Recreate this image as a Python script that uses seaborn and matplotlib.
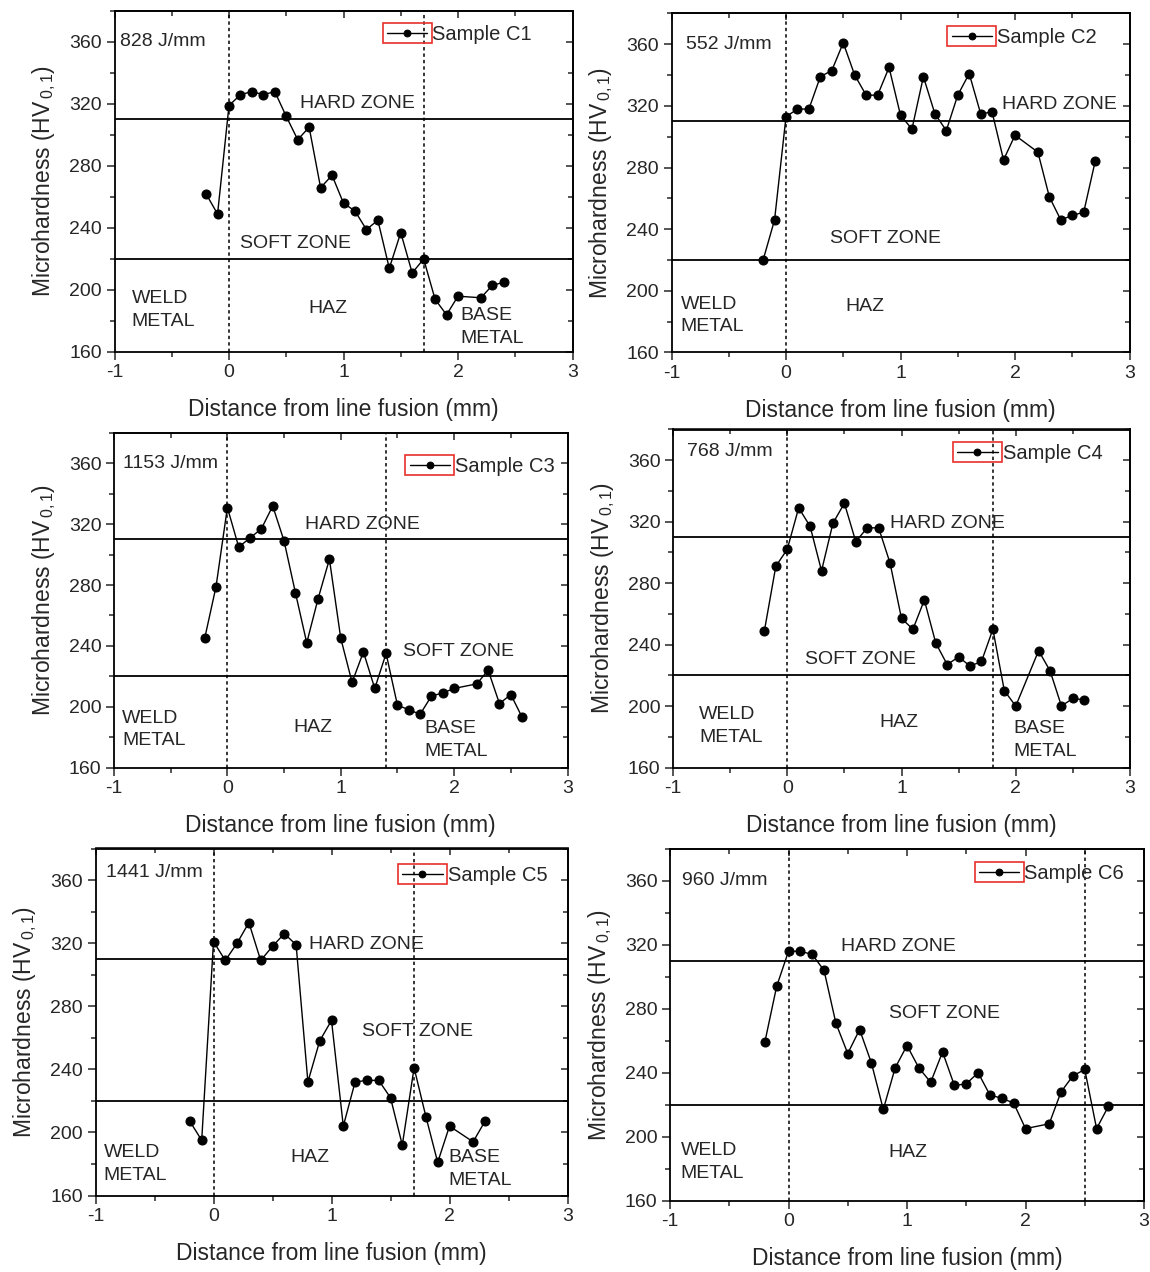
import numpy as np
import matplotlib
matplotlib.use('Agg')
from matplotlib import pyplot as plt
from matplotlib.patches import Rectangle
from matplotlib.ticker import MultipleLocator
import seaborn as sns

# hardness profiles (distance in mm, HV0.1)
samples = ['Sample C1', 'Sample C2', 'Sample C3', 'Sample C4', 'Sample C5', 'Sample C6']
heat_input = ['828 J/mm', '552 J/mm', '1153 J/mm', '768 J/mm', '1441 J/mm', '960 J/mm']

dist_c1 = [-0.2, -0.1, 0.0, 0.1, 0.2, 0.3, 0.4, 0.5, 0.6, 0.7, 0.8, 0.9, 1.0, 1.1, 1.2, 1.3,
           1.4, 1.5, 1.6, 1.7, 1.8, 1.9, 2.0, 2.2, 2.3, 2.4]
hv_c1 = [262, 249, 319, 326, 328, 326, 328, 312, 297, 305, 266, 274, 256, 251, 239, 245,
         214, 237, 211, 220, 194, 184, 196, 195, 203, 205]

dist_c2 = [-0.2, -0.1, 0.0, 0.1, 0.2, 0.3, 0.4, 0.5, 0.6, 0.7, 0.8, 0.9, 1.0, 1.1, 1.2, 1.3,
           1.4, 1.5, 1.6, 1.7, 1.8, 1.9, 2.0, 2.2, 2.3, 2.4, 2.5, 2.6, 2.7]
hv_c2 = [220, 246, 313, 318, 318, 339, 343, 361, 340, 327, 327, 345, 314, 305, 339, 315,
         304, 327, 341, 315, 316, 285, 301, 290, 261, 246, 249, 251, 284]

dist_c3 = [-0.2, -0.1, 0.0, 0.1, 0.2, 0.3, 0.4, 0.5, 0.6, 0.7, 0.8, 0.9, 1.0, 1.1, 1.2, 1.3,
           1.4, 1.5, 1.6, 1.7, 1.8, 1.9, 2.0, 2.2, 2.3, 2.4, 2.5, 2.6]
hv_c3 = [245, 279, 331, 305, 311, 317, 332, 309, 275, 242, 271, 297, 245, 216, 236, 212,
         235, 201, 198, 195, 207, 209, 212, 215, 224, 202, 208, 193]

dist_c4 = [-0.2, -0.1, 0.0, 0.1, 0.2, 0.3, 0.4, 0.5, 0.6, 0.7, 0.8, 0.9, 1.0, 1.1, 1.2, 1.3,
           1.4, 1.5, 1.6, 1.7, 1.8, 1.9, 2.0, 2.2, 2.3, 2.4, 2.5, 2.6]
hv_c4 = [249, 291, 302, 329, 317, 288, 319, 332, 307, 316, 316, 293, 257, 250, 269, 241,
         227, 232, 226, 229, 250, 210, 200, 236, 223, 200, 205, 204]

dist_c5 = [-0.2, -0.1, 0.0, 0.1, 0.2, 0.3, 0.4, 0.5, 0.6, 0.7, 0.8, 0.9, 1.0, 1.1, 1.2, 1.3,
           1.4, 1.5, 1.6, 1.7, 1.8, 1.9, 2.0, 2.2, 2.3]
hv_c5 = [207, 195, 321, 309, 320, 333, 309, 318, 326, 319, 232, 258, 271, 204, 232, 233,
         233, 222, 192, 241, 210, 181, 204, 194, 207]

dist_c6 = [-0.2, -0.1, 0.0, 0.1, 0.2, 0.3, 0.4, 0.5, 0.6, 0.7, 0.8, 0.9, 1.0, 1.1, 1.2, 1.3,
           1.4, 1.5, 1.6, 1.7, 1.8, 1.9, 2.0, 2.2, 2.3, 2.4, 2.5, 2.6, 2.7]
hv_c6 = [259, 294, 316, 316, 314, 304, 271, 252, 267, 246, 217, 243, 257, 243, 234, 253,
         232, 233, 240, 226, 224, 221, 205, 208, 228, 238, 242, 205, 219]

distances = [dist_c1, dist_c2, dist_c3, dist_c4, dist_c5, dist_c6]
hardness = [hv_c1, hv_c2, hv_c3, hv_c4, hv_c5, hv_c6]

# zone limits
hard_limit = 310
soft_limit = 220
boundaries = [[0, 1.7], [0], [0, 1.4], [0, 1.8], [0, 1.7], [0, 2.5]]

# ---- layout (pixels of the 1150x1272 figure) ----
W, H = 1150, 1272
axes_px = [(114.5, 11, 458, 341), (671.5, 13.5, 458, 339), (114, 433, 453.5, 334.5),
           (673, 429.5, 457, 338), (95.5, 848.5, 472, 347), (670, 849, 474, 351.5)]
legend_pos = [(0.595, 0.930), (0.612, 0.930), (0.652, 0.900),
              (0.622, 0.930), (0.650, 0.922), (0.652, 0.929)]
labels_pos = [
    [('HARD ZONE', 1.12, 320, 'center'), ('SOFT ZONE', 0.58, 230, 'center'),
     ('WELD\nMETAL', -0.85, 187, 'left'), ('HAZ', 0.86, 188, 'center'),
     ('BASE\nMETAL', 2.02, 176, 'left')],
    [('HARD ZONE', 2.39, 321, 'center'), ('SOFT ZONE', 0.87, 234, 'center'),
     ('WELD\nMETAL', -0.92, 184, 'left'), ('HAZ', 0.69, 190, 'center')],
    [('HARD ZONE', 1.19, 320, 'center'), ('SOFT ZONE', 2.04, 236, 'center'),
     ('WELD\nMETAL', -0.93, 185, 'left'), ('HAZ', 0.75, 186, 'center'),
     ('BASE\nMETAL', 1.74, 178, 'left')],
    [('HARD ZONE', 1.40, 319, 'center'), ('SOFT ZONE', 0.64, 230, 'center'),
     ('WELD\nMETAL', -0.77, 187, 'left'), ('HAZ', 0.98, 189, 'center'),
     ('BASE\nMETAL', 1.98, 178, 'left')],
    [('HARD ZONE', 1.30, 319, 'center'), ('SOFT ZONE', 1.73, 264, 'center'),
     ('WELD\nMETAL', -0.93, 180, 'left'), ('HAZ', 0.82, 184, 'center'),
     ('BASE\nMETAL', 1.99, 177, 'left')],
    [('HARD ZONE', 0.93, 319, 'center'), ('SOFT ZONE', 1.32, 277, 'center'),
     ('WELD\nMETAL', -0.91, 184, 'left'), ('HAZ', 1.01, 190, 'center')],
]
energy_pos = [(-0.95, 360), (-0.87, 360), (-0.92, 360), (-0.88, 366), (-0.91, 365), (-0.90, 360)]

sns.set_style('ticks')
plt.rcParams['font.family'] = ['Liberation Sans', 'DejaVu Sans']
plt.rcParams['mathtext.fontset'] = 'custom'
plt.rcParams['mathtext.rm'] = 'Liberation Sans'
plt.rcParams['mathtext.it'] = 'Liberation Sans:italic'
plt.rcParams['axes.unicode_minus'] = False

fig = plt.figure(figsize=(W / 100, H / 100), dpi=100)
legends = []

for i in range(6):
    l, t, w, h = axes_px[i]
    ax = fig.add_axes([l / W, 1 - (t + h) / H, w / W, h / H])

    sns.lineplot(x=distances[i], y=hardness[i], ax=ax, color='k', marker='o',
                 markersize=6.5, markeredgecolor='k', linewidth=1.0, label=samples[i])

    ax.axhline(hard_limit, color='k', lw=1.3)
    ax.axhline(soft_limit, color='k', lw=1.3)
    for b in boundaries[i]:
        ax.axvline(b, color='k', lw=1.1, ls=(0, (2.2, 2.0)))

    ax.set_xlim(-1, 3)
    ax.set_ylim(160, 380)
    ax.set_xticks([-1, 0, 1, 2, 3])
    ax.set_yticks([160, 200, 240, 280, 320, 360])
    ax.xaxis.set_minor_locator(MultipleLocator(0.5))
    ax.yaxis.set_minor_locator(MultipleLocator(20))
    ax.tick_params(which='major', direction='out', length=6, width=1.1, labelsize=14, pad=3)
    ax.tick_params(which='minor', direction='out', length=3.5, width=1.1)

    # inward ticks on top and right
    top = ax.secondary_xaxis('top')
    top.set_xticks([-1, 0, 1, 2, 3])
    top.xaxis.set_minor_locator(MultipleLocator(0.5))
    top.tick_params(which='both', direction='in', labeltop=False, width=1.1)
    top.tick_params(which='major', length=5)
    top.tick_params(which='minor', length=3.5)
    right = ax.secondary_yaxis('right')
    right.set_yticks([160, 200, 240, 280, 320, 360])
    right.yaxis.set_minor_locator(MultipleLocator(20))
    right.tick_params(which='both', direction='in', labelright=False, width=1.1)
    right.tick_params(which='major', length=5)
    right.tick_params(which='minor', length=3.5)

    for sp in ax.spines.values():
        sp.set_visible(True)
        sp.set_linewidth(1.3)
        sp.set_color('k')
    top.spines['top'].set_linewidth(1.3)
    right.spines['right'].set_linewidth(1.3)

    ax.set_xlabel('Distance from line fusion (mm)', fontsize=16.5, labelpad=12)
    ax.set_ylabel(r'Microhardness (HV$_{\,0,1}$)', fontsize=16.5, labelpad=8)

    ex, ey = energy_pos[i]
    ax.text(ex, ey, heat_input[i], fontsize=14, ha='left', va='center')
    for txt, tx, ty, ha in labels_pos[i]:
        ax.text(tx, ty, txt, fontsize=14, ha=ha, va='center', multialignment='left',
                linespacing=1.45)

    lx, ly = legend_pos[i]
    leg = ax.legend(loc='center left', bbox_to_anchor=(lx, ly), frameon=False,
                    borderpad=0, borderaxespad=0, handlelength=2.0, handletextpad=0.25,
                    markerscale=0.75, fontsize=14.5)
    legends.append(leg)

# red box round the legend symbol, as in the original
fig.canvas.draw()
renderer = fig.canvas.get_renderer()
to_fig = fig.transFigure.inverted()
for leg in legends:
    bb = leg.legend_handles[0].get_window_extent(renderer)
    yc = (bb.y0 + bb.y1) / 2
    x0, y0 = to_fig.transform((bb.x0 - 1, yc - 10))
    x1, y1 = to_fig.transform((bb.x1 + 1, yc + 10))
    fig.add_artist(Rectangle((x0, y0), x1 - x0, y1 - y0, transform=fig.transFigure,
                             fill=False, edgecolor='#e8302a', lw=1.2))

fig.savefig('out.png', dpi=100)
